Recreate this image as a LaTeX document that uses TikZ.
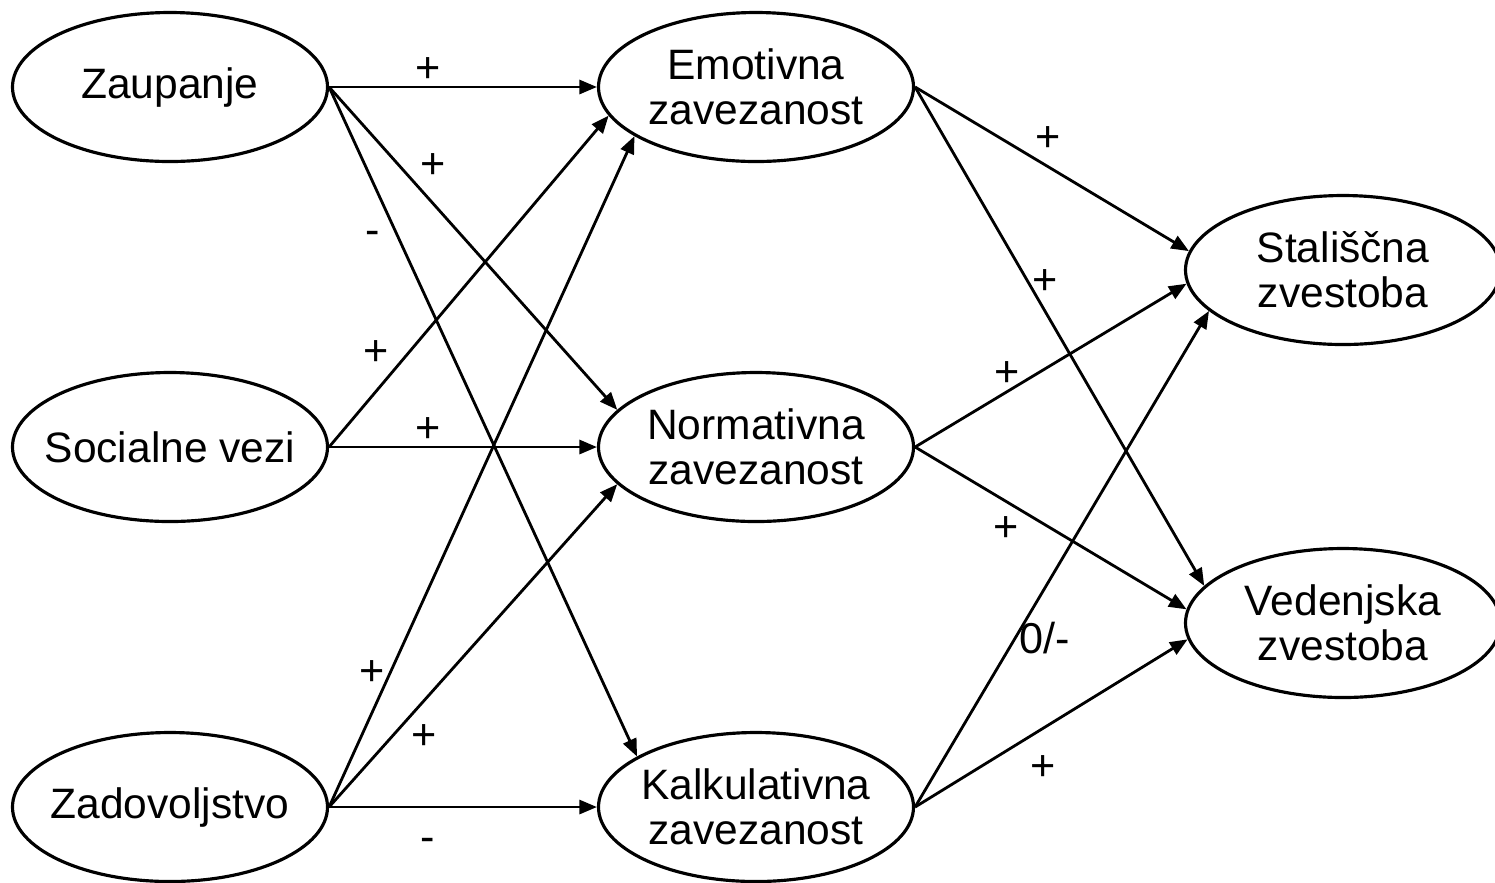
\documentclass[tikz,border=0pt]{standalone}
\usepackage{fontspec}
\setmainfont{Liberation Sans}
\usetikzlibrary{shapes, arrows.meta}

\begin{document}
\begin{tikzpicture}[
    var/.style={draw, ellipse, line width=0.9pt, minimum width=3.15cm, minimum height=1.49cm,
                inner xsep=-5pt, inner ysep=0pt, align=center, font=\fontsize{12.1}{12.9}\selectfont},
    link/.style={line width=0.8pt, -{Triangle[length=5pt,width=4pt]}},
    sgn/.style={inner sep=1pt, font=\fontsize{12.3}{12.9}\selectfont}
  ]
    \useasboundingbox (0,0) rectangle (14.95,-8.82);
    \clip (0,0) rectangle (14.95,-8.82);

    % antecedents
    \node[var] (zau) at (1.70,-0.87) {Zaupanje};
    \node[var] (soc) at (1.70,-4.47) {Socialne vezi};
    \node[var] (zad) at (1.70,-8.07) {Zadovoljstvo};

    % commitment
    \node[var] (emo) at (7.56,-0.87) {Emotivna\\zavezanost};
    \node[var] (nor) at (7.56,-4.47) {Normativna\\zavezanost};
    \node[var] (kal) at (7.56,-8.07) {Kalkulativna\\zavezanost};

    % loyalty
    \node[var] (sta) at (13.43,-2.70) {Stališčna\\zvestoba};
    \node[var] (ved) at (13.43,-6.23) {Vedenjska\\zvestoba};

    \draw[link] (zau.east) -- (emo.west) node[sgn, pos=.37, above] {+};
    \draw[link] (zau.east) -- (nor.165)  node[sgn, pos=.3, above right] {+};
    \draw[link] (zau.east) -- (kal.157)  node[sgn, pos=.225, left=4pt] {-};
    \draw[link] (soc.east) -- (emo.191)  node[sgn, pos=.23, above left] {+};
    \draw[link] (soc.east) -- (nor.west) node[sgn, pos=.37, above] {+};
    \draw[link] (zad.east) -- (emo.202)  node[sgn, pos=.2, left] {+};
    \draw[link] (zad.east) -- (nor.195)  node[sgn, pos=.27, below right] {+};
    \draw[link] (zad.east) -- (kal.west) node[sgn, pos=.37, below=7.5pt] {-};

    \draw[link] (emo.east) -- (sta.173)  node[sgn, pos=.42, above right] {+};
    \draw[link] (emo.east) -- (ved.165)  node[sgn, pos=.39, right] {+};
    \draw[link] (nor.east) -- (sta.185)  node[sgn, pos=.34, above] {+};
    \draw[link] (nor.east) -- (ved.175)  node[sgn, pos=.4, below left] {+};
    \draw[link] (kal.east) -- (sta.197)  node[sgn, pos=.34, right] {0/-};
    \draw[link] (kal.east) -- (ved.186)  node[sgn, pos=.38, below right=2pt] {+};
  \end{tikzpicture}
\end{document}
